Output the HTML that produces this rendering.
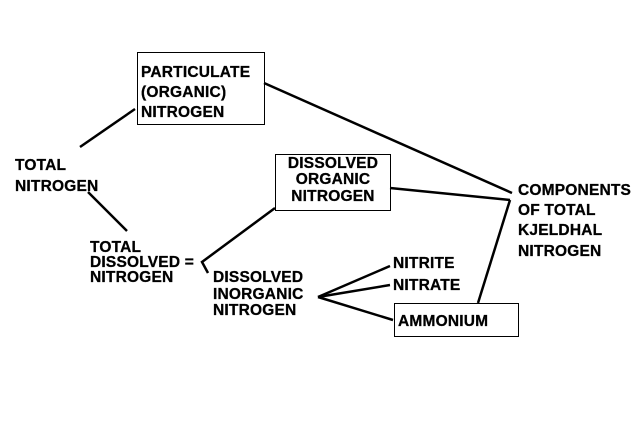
<!DOCTYPE html>
<html><head><style>
html,body{margin:0;padding:0;background:#fff;}
svg{display:block;}
text{font-family:"Liberation Sans",Arial,sans-serif;font-weight:bold;font-size:15.5px;fill:#000;letter-spacing:0.2px;stroke:#000;stroke-width:0.3px;}
</style></head><body>
<svg width="640" height="442" viewBox="0 0 640 442" xmlns="http://www.w3.org/2000/svg">
<rect width="640" height="442" fill="#fff"/>
<g stroke="#000" stroke-width="2.5" fill="none">
<rect x="137.5" y="52.5" width="127" height="72" stroke-width="1"/>
<rect x="275.5" y="154.5" width="115" height="56" stroke-width="1"/>
<rect x="394.5" y="303.5" width="124" height="33" stroke-width="1"/>
<line x1="80" y1="147" x2="135" y2="109"/>
<line x1="88" y1="192" x2="127" y2="231"/>
<line x1="264" y1="83" x2="512" y2="193"/>
<line x1="390" y1="188" x2="510" y2="200"/>
<line x1="510" y1="200" x2="478" y2="303"/>
<polyline points="275,208 202,262 208,273"/>
<line x1="318" y1="297" x2="390" y2="266"/>
<line x1="318" y1="297" x2="390" y2="285"/>
<line x1="318" y1="297" x2="393" y2="320"/>
</g>
<text x="141" y="77">PARTICULATE</text>
<text x="141" y="97">(ORGANIC)</text>
<text x="141" y="117">NITROGEN</text>
<text x="15" y="170">TOTAL</text>
<text x="15" y="191">NITROGEN</text>
<text x="90" y="252">TOTAL</text>
<text x="90" y="267">DISSOLVED =</text>
<text x="90" y="282">NITROGEN</text>
<text x="213" y="282">DISSOLVED</text>
<text x="213" y="299">INORGANIC</text>
<text x="213" y="315">NITROGEN</text>
<text x="333" y="168" text-anchor="middle">DISSOLVED</text>
<text x="333" y="184" text-anchor="middle">ORGANIC</text>
<text x="333" y="201" text-anchor="middle">NITROGEN</text>
<text x="518" y="195">COMPONENTS</text>
<text x="518" y="215">OF TOTAL</text>
<text x="518" y="235">KJELDHAL</text>
<text x="518" y="256">NITROGEN</text>
<text x="393" y="268">NITRITE</text>
<text x="393" y="290">NITRATE</text>
<text x="398" y="326">AMMONIUM</text>
</svg>
</body></html>
